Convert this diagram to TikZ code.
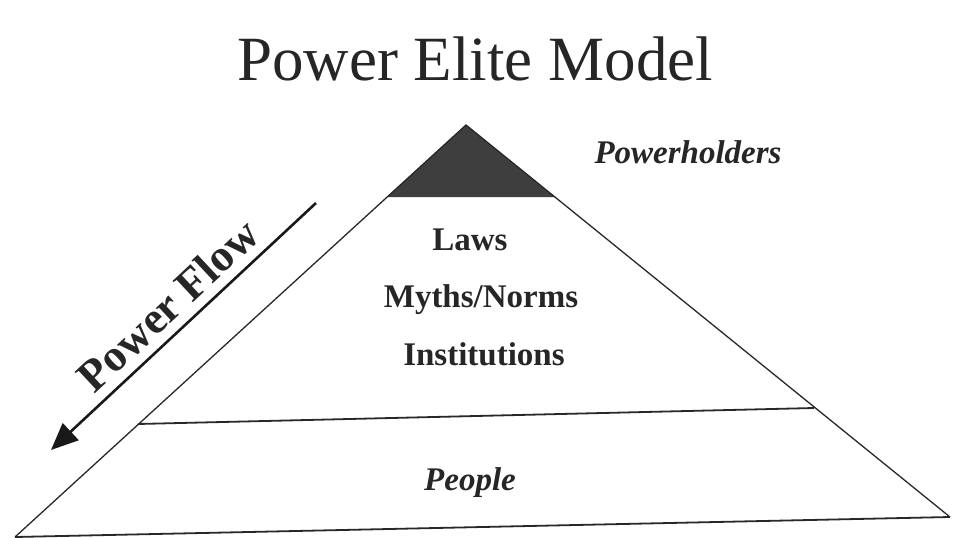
\documentclass[tikz,border=0pt]{standalone}
\usepackage{fontspec}
\setmainfont{Liberation Serif}
\usetikzlibrary{arrows.meta}
\definecolor{topfill}{RGB}{62,62,62}
\definecolor{inkline}{RGB}{40,40,40}
\tikzset{
  edge/.style={draw=inkline, line width=1.3pt},
  band/.style={draw=inkline, line width=1.8pt},
  lbl/.style={inner sep=0pt, anchor=base, text=black!85},
  bolditem/.style={lbl, font=\fontsize{33}{40}\selectfont\bfseries},
  bolditalic/.style={lbl, font=\fontsize{33}{40}\selectfont\bfseries\itshape},
  flow/.style={draw=black!90, line width=2.6pt, -{Triangle[length=27pt,width=23pt]}}
}
\begin{document}
\begin{tikzpicture}[x=1pt,y=-1pt]
\useasboundingbox (0,0) rectangle (956,538);
\fill[white] (0,0) rectangle (956,538);
% pyramid corners
\coordinate (apex) at (466,125);
\coordinate (bl) at (15,537);
\coordinate (br) at (950,517);
\coordinate (tl) at (387,197);
\coordinate (tr) at (555,197);
\coordinate (ml) at (138,424);
\coordinate (mr) at (814,408);
% top cap
\fill[topfill] (apex) -- (tr) -- (tl) -- cycle;
% sides and bottom
\draw[edge] (bl) -- (apex) -- (br);
\draw[band] (bl) -- (br);
\draw[band] (ml) -- (mr);
% title
\node[lbl, font=\fontsize{63}{70}\selectfont] (title) at (475,80) {Power Elite Model};
% labels
\node[bolditalic] (ph) at (688,163) {Powerholders};
\node[bolditem] (laws) at (470,250) {Laws};
\node[bolditem] (myths) at (481,307) {Myths/Norms};
\node[bolditem] (inst) at (484,365) {Institutions};
\node[bolditalic] (people) at (470,490) {People};
% power flow arrow
\coordinate (fs) at (316,203);
\coordinate (fe) at (51,450);
\draw[flow] (fs) -- (fe);
\node[inner sep=0pt, rotate=43, font=\fontsize{45}{50}\selectfont\bfseries, text=black!85] (pf) at (168,305) {Power Flow};
\end{tikzpicture}
\end{document}
